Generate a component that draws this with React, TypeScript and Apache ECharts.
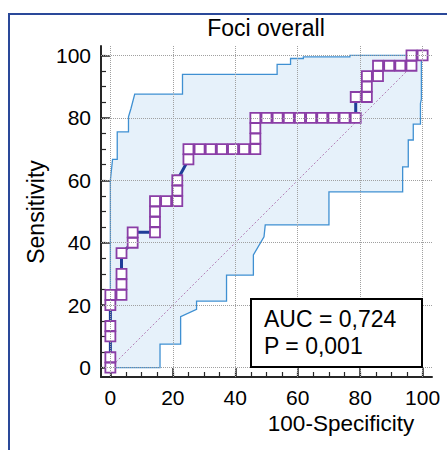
import React, { useEffect, useRef } from "react";
import * as echarts from "echarts";

// ROC curve points (100-Specificity, Sensitivity)
const rocX = [0, 0, 0, 0, 0, 0, 3.57, 3.57, 3.57, 3.57, 7.14, 7.14, 14.29, 14.29, 14.29, 14.29, 17.86, 21.43, 21.43, 21.43, 25, 25, 28.57, 32.14, 35.71, 39.29, 42.86, 46.43, 46.43, 46.43, 46.43, 50, 53.57, 57.14, 60.71, 64.29, 67.86, 71.43, 75, 78.57, 78.57, 82.14, 82.14, 82.14, 85.71, 85.71, 89.29, 92.86, 96.43, 96.43, 100];
const rocY = [0, 3.33, 10, 13.33, 20, 23.33, 23.33, 26.67, 30, 36.67, 40, 43.33, 43.33, 46.67, 50, 53.33, 53.33, 53.33, 56.67, 60, 66.67, 70, 70, 70, 70, 70, 70, 70, 73.33, 76.67, 80, 80, 80, 80, 80, 80, 80, 80, 80, 80, 86.67, 86.67, 90, 93.33, 93.33, 96.67, 96.67, 96.67, 96.67, 100, 100];

// Confidence band, upper bound
const upperX = [0, 0, 0.7, 2.2, 2.2, 5.8, 5.8, 6.6, 7.8, 23.1, 23.1, 53.4, 53.4, 57.7, 57.7, 61.8, 61.8, 76.7, 76.7, 100];
const upperY = [0, 60, 66.7, 66.7, 75.5, 75.5, 80.3, 83, 87.6, 87.6, 93.9, 93.9, 97.1, 97.1, 99, 99, 99.5, 99.5, 100, 100];
// Confidence band, lower bound
const lowerX = [0, 15.9, 15.9, 22.5, 22.5, 27.6, 27.6, 37.2, 37.2, 45.8, 45.8, 49.2, 49.6, 70, 70, 93.6, 93.6, 95.4, 95.4, 97, 97, 99.3, 99.3, 99.6, 99.6, 100];
const lowerY = [0, 0, 7.5, 7.5, 16.3, 18.7, 21.3, 21.3, 29.6, 29.6, 36.1, 41.9, 45.7, 45.7, 56.3, 56.3, 64.3, 64.3, 72.9, 72.9, 78, 78, 84.6, 86, 99.5, 100];

const majorTicks = [0, 20, 40, 60, 80, 100];
const minorTicks = [0, 5, 10, 15, 20, 25, 30, 35, 40, 45, 50, 55, 60, 65, 70, 75, 80, 85, 90, 95, 100];

const titleText = "Foci overall";
const xName = "100-Specificity";
const yName = "Sensitivity";
const aucText = "AUC = 0,724";
const pText = "P = 0,001";

const FONT = '"Liberation Sans", Arial, sans-serif';

export default function App() {
  const ref = useRef<HTMLDivElement>(null);
  useEffect(() => {
    if (!ref.current) return;
    const chart = echarts.init(ref.current, null, { renderer: "svg" });
    const axisMin = -3;
    const axisMax = 103;
    const mainAxis = (pos: string) => ({
      type: "value",
      position: pos,
      min: axisMin,
      max: axisMax,
      axisLine: { show: true, onZero: false, lineStyle: { color: "#262626", width: 2 } },
      axisTick: { show: true, inside: true, length: 9, customValues: majorTicks, lineStyle: { color: "#262626", width: 1.5 } },
      axisLabel: { show: true, customValues: majorTicks, margin: 10, color: "#000", fontSize: 21, fontFamily: FONT },
      splitLine: { show: false },
    });
    const minorAxis = (pos: string) => ({
      type: "value",
      position: pos,
      min: axisMin,
      max: axisMax,
      axisLine: { show: false, onZero: false },
      axisTick: { show: true, inside: true, length: 5, customValues: minorTicks, lineStyle: { color: "#262626", width: 1.2 } },
      axisLabel: { show: false },
      splitLine: { show: false },
    });
    const gridData: any[] = [];
    majorTicks.forEach((v) => {
      gridData.push({ xAxis: v });
      gridData.push({ yAxis: v });
    });
    chart.setOption({
      animation: false,
      grid: { left: 101, right: 15, top: 46, bottom: 73, containLabel: false },
      xAxis: [mainAxis("bottom"), minorAxis("bottom")],
      yAxis: [mainAxis("left"), minorAxis("left")],
      series: [
        {
          type: "custom",
          z: 1,
          silent: true,
          data: [[0, 0]],
          renderItem: (_params: any, api: any) => {
            const pts: number[][] = [];
            for (let i = 0; i < upperX.length; i++) pts.push(api.coord([upperX[i], upperY[i]]));
            for (let i = lowerX.length - 1; i >= 0; i--) pts.push(api.coord([lowerX[i], lowerY[i]]));
            return {
              type: "polygon",
              shape: { points: pts },
              style: { fill: "#e6f1fa", stroke: "#3f90d2", lineWidth: 1.3 },
            };
          },
        },
        {
          type: "line",
          z: 2,
          silent: true,
          data: [[0, 0], [100, 100]],
          symbol: "none",
          lineStyle: { color: "#b580b8", width: 1, type: [2, 2] },
          markLine: {
            silent: true,
            symbol: "none",
            label: { show: false },
            lineStyle: { color: "#a0a0a0", width: 1, type: "dotted" },
            data: gridData,
          },
        },
        {
          type: "line",
          z: 3,
          data: rocX.map((x, i) => [x, rocY[i]]),
          symbol: "rect",
          symbolSize: 10,
          lineStyle: { color: "#1f3d98", width: 3 },
          itemStyle: { color: "#ffffff", borderColor: "#8a3ea6", borderWidth: 1.8 },
        },
      ],
      graphic: [
        {
          type: "rect",
          z: 0,
          silent: true,
          shape: { x: 9, y: 14, width: 520, height: 520 },
          style: { fill: "none", stroke: "#2a4899", lineWidth: 2 },
        },
        {
          type: "text",
          x: 266,
          y: 28,
          style: { text: titleText, fill: "#000", font: `23px ${FONT}`, align: "center", verticalAlign: "middle" },
        },
        {
          type: "text",
          x: 36,
          y: 212,
          rotation: Math.PI / 2,
          style: { text: yName, fill: "#000", font: `23px ${FONT}`, align: "center", verticalAlign: "middle" },
        },
        {
          type: "text",
          x: 341,
          y: 423,
          style: { text: xName, fill: "#000", font: `22.5px ${FONT}`, align: "center", verticalAlign: "middle" },
        },
        {
          type: "rect",
          z: 100,
          shape: { x: 251, y: 299, width: 171, height: 68 },
          style: { fill: "#ffffff", stroke: "#000", lineWidth: 2 },
        },
        {
          type: "text",
          z: 101,
          x: 264,
          y: 319,
          style: { text: aucText, fill: "#000", font: `23px ${FONT}`, align: "left", verticalAlign: "middle" },
        },
        {
          type: "text",
          z: 101,
          x: 264,
          y: 346,
          style: { text: pText, fill: "#000", font: `23px ${FONT}`, align: "left", verticalAlign: "middle" },
        },
      ],
    });
    return () => chart.dispose();
  }, []);
  return (
    <div
      ref={ref}
      style={{ position: "fixed", left: 0, top: 0, width: 447, height: 450, background: "#fff" }}
    />
  );
}
